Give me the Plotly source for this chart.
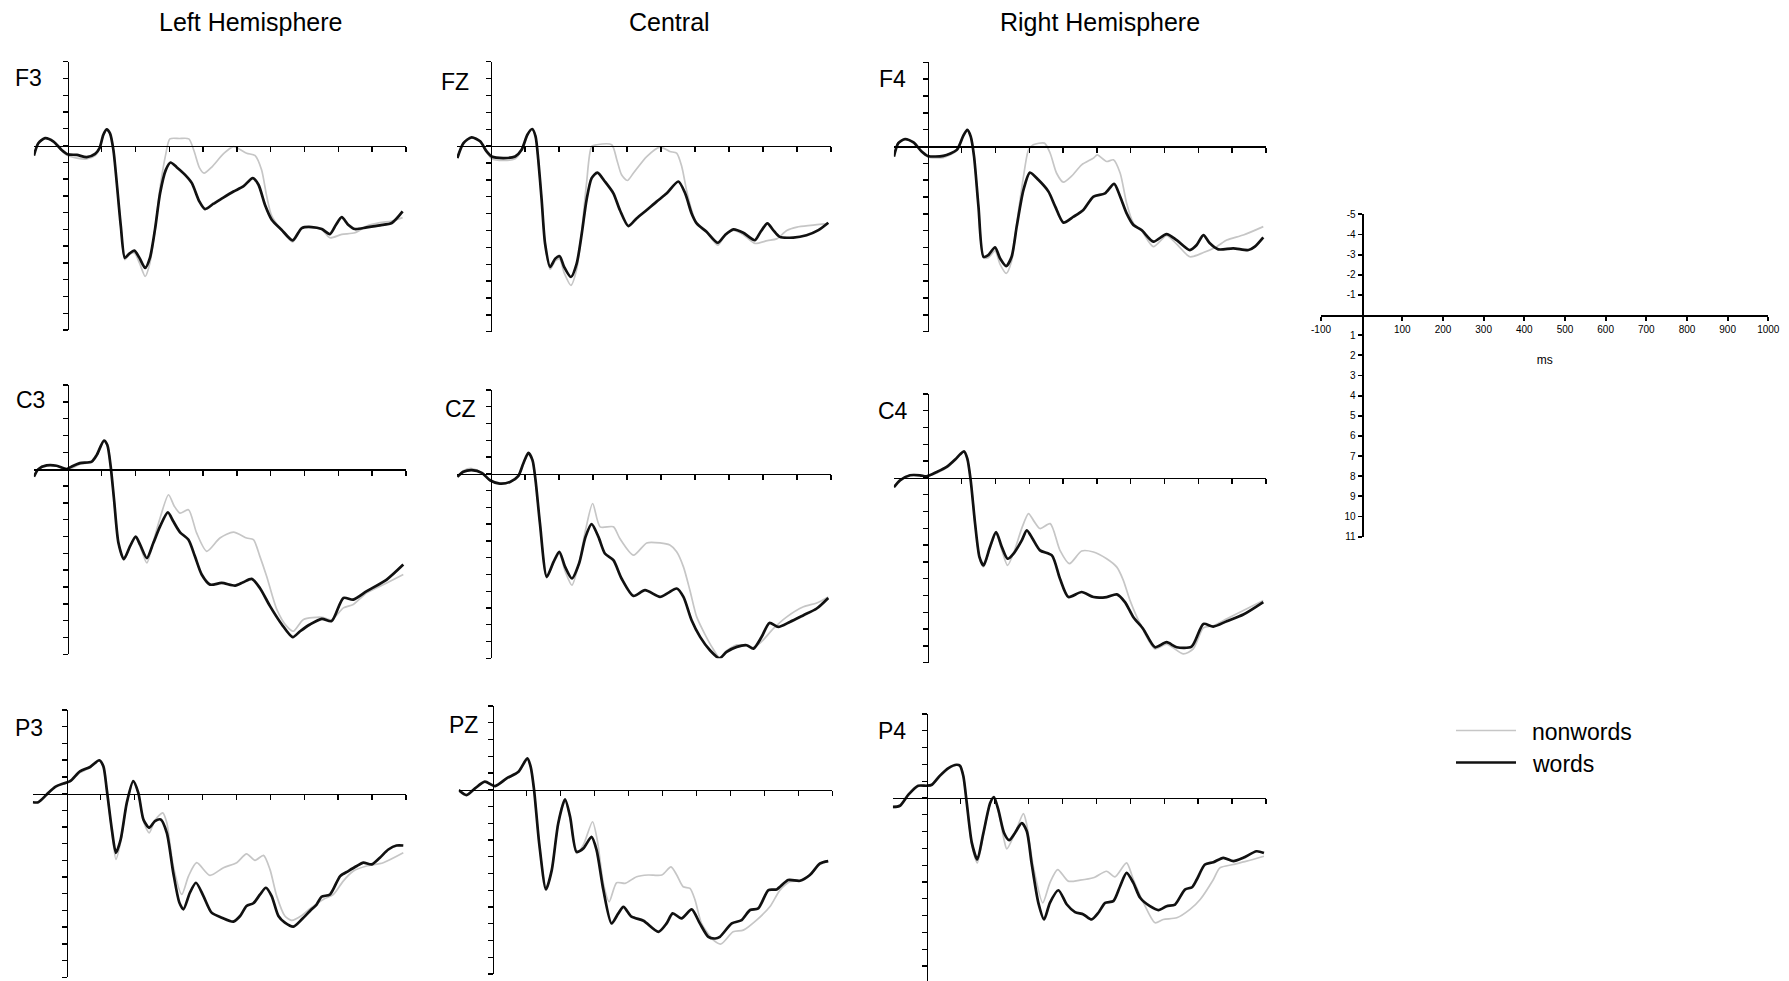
import plotly.graph_objects as go

W, H = 1789, 981
FONT = "Liberation Sans, Arial, Helvetica, sans-serif"

# ---------------- data: (ms, microvolts; positive plotted downward) ----------------
F3_WORDS = [(-100,0.6),(-87,-0.14),(-67,-0.44),(-42,-0.24),(-18,0.26),(0,0.52),(27,0.56),(56,0.69),(81,0.5),(94,0.16),
            (105,-0.63),(115,-0.97),(125,-0.73),(135,0.26),(145,2.24),(157,4.82),(169,6.7),(182,6.45),(197,6.27),(212,6.7),
            (229,7.3),(243,6.7),(258,5.0),(273,2.84),(290,1.45),(304,1.01),(322,1.29),(347,1.75),(367,2.24),(389,3.33),
            (406,3.79),(431,3.47),(460,3.1),(490,2.74),(519,2.44),(547,1.94),(564,2.34),(583,3.53),(603,4.42),(632,5.02),
            (665,5.65),(692,4.92),(721,4.86),(751,4.98),(775,5.28),(793,4.72),(810,4.27),(829,4.72),(849,4.98),(884,4.88),
            (923,4.76),(958,4.62),(990,3.93)]
F3_NONWORDS = [(-100,0.6),(-87,-0.14),(-67,-0.44),(-42,-0.24),(-18,0.3),(0,0.6),(27,0.75),(56,0.8),(81,0.6),(94,0.2),
               (105,-0.6),(115,-0.95),(125,-0.7),(135,0.26),(145,2.24),(157,4.8),(169,6.8),(182,6.5),(197,6.4),(212,7.0),
               (229,7.8),(243,7.0),(258,5.0),(273,2.5),(290,0.5),(302,-0.4),(330,-0.42),(358,-0.4),(373,0.3),(390,1.35),
               (403,1.65),(425,1.3),(460,0.5),(490,0.06),(529,0.46),(554,0.6),(573,1.45),(588,3.0),(603,4.2),(632,5.05),
               (665,5.75),(692,4.9),(721,4.86),(751,5.0),(775,5.5),(810,5.3),(849,5.2),(884,4.8),(923,4.6),(958,4.5),(990,4.3)]

FZ_WORDS = [(-99,0.71),(-81,-0.18),(-57,-0.52),(-32,-0.28),(-13,0.32),(2,0.62),(36,0.71),(71,0.62),(90,0.22),(107,-0.67),
            (121,-1.01),(131,-0.58),(139,0.81),(149,3.19),(159,5.77),(174,7.16),(189,6.67),(202,6.53),(215,7.16),(235,7.76),
            (252,6.96),(267,5.18),(281,3.19),(296,1.9),(313,1.57),(335,2.1),(360,2.8),(379,3.79),(404,4.74),(428,4.29),
            (458,3.79),(487,3.29),(517,2.8),(551,2.1),(571,2.8),(590,3.99),(605,4.58),(634,5.08),(667,5.73),(688,5.28),
            (713,4.94),(742,5.14),(776,5.58),(793,5.08),(813,4.58),(830,4.98),(849,5.38),(889,5.42),(928,5.28),(963,4.98),(992,4.54)]
FZ_NONWORDS = [(-99,0.71),(-81,-0.18),(-57,-0.52),(-32,-0.28),(-13,0.35),(2,0.75),(36,0.85),(71,0.75),(90,0.25),(107,-0.65),
               (121,-1.0),(131,-0.58),(139,0.81),(149,3.19),(159,5.8),(174,7.3),(189,6.8),(202,6.7),(215,7.5),(235,8.25),
               (252,7.3),(267,5.0),(281,2.2),(296,0.02),(311,-0.08),(355,-0.08),(370,0.81),(384,1.7),(401,2.04),(419,1.6),
               (458,0.62),(497,0.06),(526,0.32),(546,0.42),(561,1.21),(575,2.6),(590,3.79),(605,4.58),(634,5.1),(667,5.87),
               (688,5.3),(713,5.0),(742,5.25),(776,5.77),(813,5.6),(840,5.5),(870,5.0),(900,4.8),(940,4.7),(992,4.6)]

F4_WORDS = [(-100,0.6),(-87,-0.2),(-67,-0.44),(-42,-0.24),(-18,0.3),(0,0.56),(46,0.56),(86,0.2),(105,-0.63),(117,-0.99),
            (127,-0.6),(137,0.6),(150,3.57),(165,6.55),(179,6.45),(199,5.99),(214,6.65),(232,7.1),(248,6.55),(263,4.76),
            (283,2.58),(302,1.55),(327,1.98),(357,2.68),(377,3.57),(401,4.52),(431,4.17),(460,3.77),(490,2.98),(524,2.78),
            (551,2.22),(569,2.98),(588,3.97),(608,4.66),(632,4.96),(667,5.65),(706,5.2),(736,5.56),(775,6.15),(795,5.85),
            (815,5.26),(834,5.75),(859,6.11),(903,6.05),(948,6.15),(967,5.95),(992,5.4)]
F4_NONWORDS = [(-100,0.6),(-87,-0.2),(-67,-0.44),(-42,-0.24),(-18,0.32),(0,0.62),(46,0.66),(86,0.25),(105,-0.6),(117,-0.97),
               (127,-0.6),(137,0.6),(150,3.57),(165,6.6),(179,6.6),(199,6.2),(214,7.0),(232,7.54),(248,6.8),(263,4.6),
               (283,1.79),(298,0.2),(312,-0.1),(345,-0.2),(362,0.4),(381,1.59),(401,2.12),(426,1.75),(455,1.09),(490,0.69),
               (501,0.5),(529,0.89),(549,0.79),(569,1.59),(588,3.37),(608,4.56),(632,5.0),(667,5.95),(706,5.3),(736,5.8),
               (775,6.55),(815,6.3),(854,5.95),(884,5.56),(933,5.26),(992,4.76)]

C3_WORDS = [(-100,0.45),(-87,0.0),(-62,-0.22),(-33,-0.2),(-3,0.0),(12,-0.16),(36,-0.36),(71,-0.45),(86,-0.85),(107,-1.7),
            (117,-1.44),(127,-0.16),(137,1.82),(150,4.39),(166,5.34),(184,4.59),(201,4.0),(214,4.49),(234,5.28),(253,4.39),
            (273,3.4),(296,2.57),(312,3.1),(332,3.75),(357,4.19),(376,5.18),(396,6.26),(421,6.86),(455,6.76),(495,6.92),
            (519,6.72),(544,6.52),(568,7.06),(598,8.14),(633,9.23),(665,9.98),(687,9.63),(716,9.23),(751,8.89),(780,9.03),
            (815,7.65),(844,7.75),(884,7.25),(943,6.56),(992,5.67)]
C3_NONWORDS = [(-100,0.45),(-87,0.0),(-62,-0.25),(-33,-0.2),(-3,0.05),(12,-0.05),(36,-0.3),(71,-0.42),(86,-0.8),(107,-1.68),
               (117,-1.44),(127,-0.16),(137,1.82),(150,4.39),(166,5.4),(184,4.62),(201,4.05),(214,4.6),(234,5.57),(253,4.3),
               (273,2.9),(298,1.52),(315,2.2),(332,2.61),(357,2.41),(381,3.79),(411,4.88),(450,4.09),(490,3.74),(529,4.09),
               (549,4.19),(568,5.18),(588,6.36),(618,8.33),(647,9.33),(667,9.63),(697,8.93),(751,8.8),(780,8.95),(815,8.24),
               (844,8.04),(884,7.35),(943,6.76),(992,6.26)]

CZ_WORDS = [(-99,0.18),(-81,-0.12),(-57,-0.22),(-27,-0.06),(-3,0.38),(26,0.58),(56,0.48),(80,0.14),(95,-0.62),(110,-1.25),
            (122,-0.82),(131,0.38),(144,2.96),(164,6.14),(184,5.25),(201,4.65),(218,5.55),(238,6.24),(259,5.35),(278,3.76),
            (296,3.0),(316,3.76),(335,4.75),(360,5.15),(384,6.24),(419,7.28),(453,6.94),(497,7.34),(521,7.1),(546,6.84),
            (566,7.34),(590,8.73),(615,9.72),(644,10.52),(672,11.0),(693,10.62),(723,10.32),(752,10.22),(772,10.42),(796,9.72),
            (819,8.89),(845,9.13),(879,8.83),(919,8.43),(958,8.03),(992,7.4)]
CZ_NONWORDS = [(-99,0.18),(-81,-0.18),(-57,-0.32),(-27,-0.06),(-3,0.4),(26,0.6),(56,0.5),(80,0.14),(95,-0.6),(110,-1.22),
               (122,-0.82),(131,0.38),(144,2.96),(164,6.2),(184,5.3),(201,4.75),(218,5.8),(238,6.64),(259,5.3),(278,3.36),
               (299,1.77),(321,3.16),(360,3.16),(379,3.86),(419,4.85),(458,4.12),(497,4.12),(526,4.25),(546,4.65),(566,5.55),
               (585,6.94),(605,8.53),(630,9.6),(652,10.4),(672,10.95),(693,10.55),(723,10.2),(752,10.25),(772,10.35),(796,10.0),
               (831,9.22),(870,8.53),(919,7.93),(958,7.7),(992,7.34)]

C4_WORDS = [(-100,0.55),(-82,0.14),(-52,-0.16),(-23,-0.16),(-3,-0.1),(27,-0.36),(56,-0.66),(81,-1.1),(96,-1.41),(107,-1.59),
            (117,-1.15),(127,0.14),(140,2.72),(153,4.71),(165,5.21),(184,4.11),(202,3.22),(219,4.11),(236,4.81),(255,4.47),
            (278,3.72),(293,3.12),(310,3.62),(332,4.31),(367,4.61),(391,6.0),(416,7.09),(455,6.79),(490,7.09),(529,7.09),
            (559,6.93),(583,7.39),(608,8.29),(637,8.99),(672,10.08),(706,9.78),(736,10.08),(780,10.04),(815,8.69),(844,8.85),
            (884,8.53),(933,8.13),(992,7.39)]
C4_NONWORDS = [(-100,0.55),(-82,0.14),(-52,-0.18),(-23,-0.18),(-3,-0.1),(27,-0.3),(56,-0.6),(81,-1.05),(96,-1.4),(107,-1.57),
               (117,-1.15),(127,0.14),(140,2.72),(153,4.75),(165,5.3),(184,4.2),(202,3.3),(219,4.3),(236,5.21),(255,4.4),
               (278,3.0),(298,2.12),(315,2.6),(332,3.01),(362,2.72),(391,4.31),(419,5.1),(455,4.35),(490,4.41),(529,4.81),
               (559,5.31),(578,6.08),(598,7.29),(628,8.69),(672,10.18),(706,9.9),(756,10.48),(785,10.18),(815,8.93),(844,8.8),
               (884,8.39),(933,7.89),(992,7.29)]

P3_WORDS = [(-100,0.52),(-84,0.52),(-59,0.06),(-34,-0.4),(-10,-0.6),(10,-0.74),(39,-1.33),(69,-1.59),(96,-1.99),(108,-1.63),
            (118,-0.24),(133,2.15),(145,3.55),(159,2.75),(177,0.56),(196,-0.74),(211,-0.04),(226,1.55),(243,2.05),(260,1.65),
            (277,1.55),(295,2.35),(314,4.74),(332,6.53),(344,6.93),(363,5.94),(381,5.34),(403,6.14),(427,7.13),(457,7.43),
            (491,7.67),(511,7.33),(530,6.73),(550,6.57),(570,6.04),(587,5.64),(604,6.14),(624,7.33),(643,7.73),(668,7.97),
            (693,7.53),(717,7.03),(737,6.63),(751,6.18),(776,6.04),(806,4.94),(830,4.64),(855,4.34),(874,4.14),(899,4.24),
            (923,3.84),(948,3.35),(972,3.11),(992,3.11)]
P3_NONWORDS = [(-100,0.52),(-84,0.52),(-59,0.06),(-34,-0.4),(-10,-0.6),(10,-0.7),(39,-1.25),(69,-1.55),(96,-1.97),(108,-1.63),
               (118,-0.24),(133,2.3),(145,3.94),(159,2.9),(177,0.6),(196,-0.7),(211,0.0),(226,1.65),(243,2.35),(260,1.6),
               (283,1.16),(295,1.75),(314,4.34),(339,6.04),(359,4.94),(383,4.14),(422,4.9),(462,4.44),(501,4.14),(530,3.61),
               (555,4.0),(580,3.7),(599,4.54),(619,6.14),(643,7.33),(663,7.59),(693,7.3),(717,6.9),(756,6.34),(786,6.04),
               (815,5.24),(845,4.64),(884,4.34),(933,4.14),(992,3.55)]

PZ_WORDS = [(-100,0.02),(-77,0.32),(-52,-0.08),(-23,-0.48),(7,-0.22),(41,-0.68),(76,-1.07),(102,-1.87),(112,-1.37),(122,0.02),
            (137,3.2),(157,5.95),(174,4.8),(193,2.01),(213,0.58),(228,1.61),(247,3.7),(267,3.5),(291,2.81),(306,3.6),
            (326,5.99),(350,7.98),(370,7.38),(385,6.99),(409,7.58),(444,7.82),(488,8.48),(512,7.98),(530,7.38),(556,7.68),
            (586,7.14),(610,7.98),(635,8.78),(655,8.88),(669,8.78),(704,7.98),(733,7.78),(758,7.18),(782,7.08),(812,5.99),
            (836,5.95),(870,5.39),(905,5.43),(934,5.09),(964,4.4),(988,4.26)]
PZ_NONWORDS = [(-100,0.02),(-77,0.3),(-52,-0.08),(-23,-0.45),(7,-0.2),(41,-0.65),(76,-1.05),(102,-1.85),(112,-1.37),(122,0.02),
               (137,3.2),(157,5.95),(174,4.8),(193,2.01),(213,0.6),(228,1.7),(247,3.8),(267,3.3),(294,1.91),(308,3.0),
               (326,5.59),(343,6.69),(365,5.55),(390,5.59),(424,5.19),(458,5.09),(498,5.09),(525,4.6),(542,5.09),(561,5.79),
               (581,5.89),(596,6.59),(615,7.98),(650,8.98),(672,9.21),(708,8.48),(738,8.38),(777,7.78),(816,6.99),(846,5.99),
               (875,5.49),(905,5.43),(934,5.09),(964,4.45),(988,4.26)]

P4_WORDS = [(-100,0.53),(-79,0.46),(-54,-0.2),(-25,-0.73),(0,-0.73),(15,-0.79),(39,-1.33),(64,-1.78),(88,-1.98),(98,-1.92),
            (108,-1.29),(118,0.3),(133,2.67),(149,3.66),(167,2.08),(187,0.3),(198,-0.06),(211,0.69),(228,2.08),(243,2.51),
            (260,2.08),(280,1.49),(295,1.98),(309,3.86),(329,6.24),(346,7.23),(363,6.24),(388,5.49),(413,6.34),(437,6.79),
            (462,6.93),(486,7.23),(506,6.83),(526,6.24),(550,6.14),(570,5.25),(589,4.46),(609,5.05),(629,5.94),(658,6.44),
            (683,6.67),(707,6.44),(732,6.34),(761,5.45),(782,5.31),(796,4.85),(820,3.96),(845,3.82),(874,3.56),(904,3.76),
            (933,3.56),(972,3.17),(994,3.27)]
P4_NONWORDS = [(-100,0.58),(-79,0.5),(-54,-0.18),(-25,-0.7),(0,-0.7),(15,-0.75),(39,-1.28),(64,-1.74),(88,-1.95),(98,-1.9),
               (108,-1.29),(118,0.3),(133,2.8),(149,3.86),(167,2.2),(187,0.35),(198,0.0),(211,0.8),(228,2.5),(236,3.03),
               (260,2.1),(285,0.93),(295,1.6),(314,4.06),(342,6.24),(363,5.05),(386,4.26),(417,4.95),(452,4.89),(491,4.75),
               (530,4.36),(555,4.69),(589,3.86),(609,4.85),(639,6.24),(673,7.43),(697,7.23),(737,7.13),(776,6.63),(806,6.04),
               (845,4.85),(864,4.16),(904,3.96),(943,3.76),(994,3.47)]

CHANNELS = ["F3", "FZ", "F4", "C3", "CZ", "C4", "P3", "PZ", "P4"]
WORDS = [F3_WORDS, FZ_WORDS, F4_WORDS, C3_WORDS, CZ_WORDS, C4_WORDS, P3_WORDS, PZ_WORDS, P4_WORDS]
NONWORDS = [F3_NONWORDS, FZ_NONWORDS, F4_NONWORDS, C3_NONWORDS, CZ_NONWORDS, C4_NONWORDS, P3_NONWORDS, PZ_NONWORDS, P4_NONWORDS]
COLUMN_TITLES = ["Left Hemisphere", "Central", "Right Hemisphere"]
SERIES_NAMES = ["nonwords", "words"]
X_TICKS = list(range(100, 1001, 100))
Y_TICKS = list(range(-5, 12))
SCALE_X_TICKS = [-100] + list(range(100, 1001, 100))
SCALE_Y_TICKS = [v for v in range(-5, 12) if v != 0]

# ---------------- layout geometry (pixels) ----------------
# (x of -100 ms, x of 1000 ms, y of -5 uV, y of +11 uV, label x shift, label y value)
GEOM = [
    (33.9, 406.0, 61.7, 330.0, -24, -4.0),
    (457.0, 831.0, 61.7, 331.7, -20, -3.8),
    (893.9, 1266.0, 62.3, 331.7, -20, -4.0),
    (33.9, 406.0, 385.0, 654.3, -21, -4.1),
    (457.0, 831.0, 390.0, 658.3, -13, -3.85),
    (893.9, 1266.0, 394.0, 662.7, -18, -4.0),
    (32.8, 406.0, 710.0, 977.3, -22, -3.9),
    (458.7, 832.3, 706.0, 974.0, -13, -3.85),
    (892.8, 1266.0, 714.0, 982.8, -19, -4.0),
]
SCALE_GEOM = (1321.0, 1768.3, 214.3, 536.7)
TITLE_X = [250, 669, 1099.5]

GRAY = "#c6c6c6"
BLACK = "#111111"

fig = go.Figure()
layout = dict(width=W, height=H, margin=dict(l=0, r=0, t=0, b=0, pad=0, autoexpand=False),
              autosize=False,
              paper_bgcolor="white", plot_bgcolor="rgba(0,0,0,0)",
              showlegend=False, font=dict(family=FONT, color="black"))
annotations = []
shapes = []


def axis_pair(i, geom, scale=False):
    x0, x1, yt, yb = geom[:4]
    unit = (yb - yt) / 16.0
    zero_px = yt + 5 * unit
    yb_vis = min(yb, H)
    y_bottom_val = -5 + (yb_vis - yt) / unit
    x_zero_px = x0 + 100 * (x1 - x0) / 1100.0
    lw = 1.9 if scale else 1.4
    common = dict(showline=True, linecolor="black", linewidth=lw, ticks="outside",
                  ticklen=4 if scale else 5, tickwidth=lw, tickcolor="black",
                  showgrid=False, zeroline=False, fixedrange=True, automargin=False, anchor="free")
    xa = dict(domain=[x0 / W, x1 / W], range=[-100, 1000], position=1 - zero_px / H, **common)
    ya = dict(domain=[1 - yb_vis / H, 1 - yt / H], range=[y_bottom_val, -5], position=x_zero_px / W, **common)
    if scale:
        xa.update(tickvals=SCALE_X_TICKS, ticktext=[str(v) for v in SCALE_X_TICKS],
                  showticklabels=True, tickfont=dict(size=10, family=FONT),
                  title=dict(text="ms", font=dict(size=12, family=FONT), standoff=22))
        ya.update(tickvals=SCALE_Y_TICKS, ticktext=[str(v) for v in SCALE_Y_TICKS],
                  showticklabels=True, tickfont=dict(size=10, family=FONT))
    else:
        xa.update(tickvals=X_TICKS, showticklabels=False)
        ya.update(tickvals=Y_TICKS, showticklabels=False)
    key = "" if i == 1 else str(i)
    layout["xaxis" + key] = xa
    layout["yaxis" + key] = ya
    return ("x" + key, "y" + key)


for i, (ch, w, nw, g) in enumerate(zip(CHANNELS, WORDS, NONWORDS, GEOM), start=1):
    xr, yr = axis_pair(i, g)
    for series, color, width, name in ((nw, GRAY, 1.7, SERIES_NAMES[0]), (w, BLACK, 2.7, SERIES_NAMES[1])):
        fig.add_trace(go.Scatter(
            x=[p[0] for p in series], y=[p[1] for p in series], xaxis=xr, yaxis=yr,
            mode="lines", name=name, hoverinfo="skip",
            line=dict(color=color, width=width, shape="spline", smoothing=0.7)))
    annotations.append(dict(text=ch, xref=xr, yref=yr, x=0, y=g[5], xanchor="right", yanchor="middle",
                            xshift=g[4], showarrow=False, font=dict(size=23, family=FONT, color="black")))

# calibration panel
sxr, syr = axis_pair(10, SCALE_GEOM, scale=True)
fig.add_trace(go.Scatter(x=[None], y=[None], xaxis=sxr, yaxis=syr, mode="lines", showlegend=False, hoverinfo="skip"))

# column titles
for t, xc in zip(COLUMN_TITLES, TITLE_X):
    annotations.append(dict(text=t, xref="paper", yref="paper", x=xc / W, y=1 - 21.5 / H,
                            xanchor="center", yanchor="middle", showarrow=False,
                            font=dict(size=25, family=FONT, color="black")))

# custom legend
for name, color, width, ypx in ((SERIES_NAMES[0], GRAY, 1.7, 730.5), (SERIES_NAMES[1], BLACK, 2.7, 762.5)):
    shapes.append(dict(type="line", xref="paper", yref="paper", x0=1456 / W, x1=1516 / W,
                       y0=1 - ypx / H, y1=1 - ypx / H, line=dict(color=color, width=width)))
    annotations.append(dict(text=name, xref="paper", yref="paper", x=1530 / W, y=1 - (ypx + 1) / H,
                            xanchor="left", yanchor="middle", showarrow=False,
                            font=dict(size=23, family=FONT, color="black")))

layout["annotations"] = annotations
layout["shapes"] = shapes
fig.update_layout(**layout)
fig.write_html("out.html", config=dict(displayModeBar=False, staticPlot=True),
               post_script="document.body.style.margin='0';document.body.style.overflow='hidden';")
